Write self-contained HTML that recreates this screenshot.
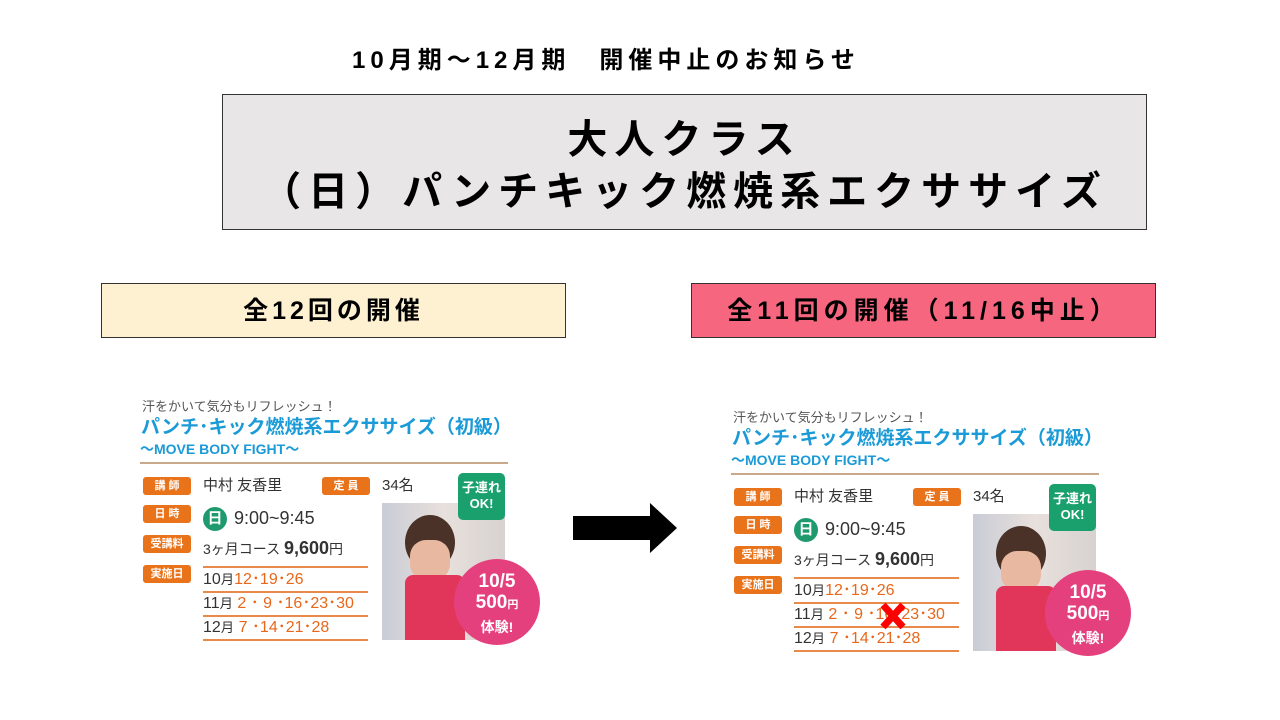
<!DOCTYPE html>
<html><head><meta charset="utf-8"><style>
*{margin:0;padding:0;box-sizing:border-box}
body{width:1280px;height:720px;background:#fff;position:relative;overflow:hidden;font-family:"Liberation Sans","Noto Sans CJK JP",sans-serif}
.a{position:absolute;white-space:nowrap}
.card{position:absolute;width:420px;height:270px}
.card .a{line-height:1}
.lab{position:absolute;width:48px;height:18px;background:#e8731a;border-radius:3px;color:#fff;font-size:11px;font-weight:bold;text-align:center;line-height:18px}
.ol{position:absolute;left:73px;width:165px;height:2px;background:#e98a4d}
.or{color:#e8671a}
</style></head><body>
<div class="a" style="left:352px;top:40px;font-size:24px;font-weight:bold;color:#000;letter-spacing:5px">10月期～12月期　開催中止のお知らせ</div>
<div class="a" style="left:222px;top:94px;width:925px;height:136px;background:#e8e6e7;border:1px solid #333"></div>
<div class="a" style="left:222px;top:114px;width:925px;text-align:center;font-size:40px;font-weight:bold;line-height:52px;letter-spacing:7px">大人クラス<br>（日）パンチキック燃焼系エクササイズ</div>
<div class="a" style="left:101px;top:283px;width:465px;height:55px;background:#fdf1d2;border:1px solid #333;font-size:25px;font-weight:bold;text-align:center;line-height:55px;letter-spacing:4px">全12回の開催</div>
<div class="a" style="left:691px;top:283px;width:465px;height:55px;background:#f6677f;border:1px solid #333;font-size:25px;font-weight:bold;text-align:center;line-height:55px;letter-spacing:5px">全11回の開催（11/16中止）</div>
<svg class="a" style="left:570px;top:500px" width="110" height="56"><polygon points="3,16 80,16 80,3 107,28 80,53 80,40 3,40" fill="#000"/></svg>

<div class="card" style="left:130px;top:390px">
<div class="a" style="left:12px;top:10px;font-size:13px;color:#555">汗をかいて気分もリフレッシュ！</div>
<div class="a" style="left:11px;top:28px;font-size:19px;font-weight:bold;color:#1a9ad6">パンチ･キック燃焼系エクササイズ（初級）</div>
<div class="a" style="left:10px;top:52px;font-size:14px;font-weight:bold;color:#1a9ad6">～MOVE BODY FIGHT～</div>
<div class="a" style="left:10px;top:72px;width:368px;height:2px;background:#c9a98a"></div>
<div class="lab" style="left:13px;top:87px">講 師</div>
<div class="lab" style="left:13px;top:115px">日 時</div>
<div class="lab" style="left:13px;top:145px">受講料</div>
<div class="lab" style="left:13px;top:175px">実施日</div>
<div class="lab" style="left:192px;top:87px">定 員</div>
<div class="a" style="left:73px;top:88px;font-size:15px;color:#333">中村 友香里</div>
<div class="a" style="left:252px;top:88px;font-size:15px;color:#333">34名</div>
<div class="a" style="left:73px;top:117px;width:24px;height:24px;border-radius:50%;background:#1e9a6e;color:#fff;font-size:15px;font-weight:bold;text-align:center;line-height:24px">日</div>
<div class="a" style="left:104px;top:119px;font-size:18px;color:#333">9:00~9:45</div>
<div class="a" style="left:73px;top:149px;font-size:14px;color:#333">3ヶ月コース <b style="font-size:18px">9,600</b>円</div>
<div class="ol" style="top:176px"></div>
<div class="ol" style="top:201px"></div>
<div class="ol" style="top:225px"></div>
<div class="ol" style="top:249px"></div>
<div class="a" style="left:73px;top:182px;font-size:16px;color:#333">10<small>月</small><span class="or">12･19･26</span></div>
<div class="a" style="left:73px;top:206px;font-size:16px;color:#333">11<small>月</small> <span class="or">2 ･ 9 ･16･23･30</span></div>
<div class="a" style="left:73px;top:230px;font-size:16px;color:#333">12<small>月</small> <span class="or">7 ･14･21･28</span></div>
<div class="a" style="left:252px;top:113px;width:123px;height:137px;background:linear-gradient(90deg,#c9ccd6,#e8e0dc 50%,#d7d2d0)"></div>
<div class="a" style="left:275px;top:125px;width:50px;height:55px;border-radius:50%;background:#4a3228"></div>
<div class="a" style="left:280px;top:150px;width:40px;height:40px;border-radius:40%;background:#e8b8a0"></div>
<div class="a" style="left:275px;top:185px;width:60px;height:65px;background:#e2355a;border-radius:8px 8px 0 0"></div>
<div class="a" style="left:328px;top:83px;width:47px;height:47px;border-radius:5px;background:#19a06d;color:#fff;font-size:13px;font-weight:bold;text-align:center;line-height:16px;padding-top:7px">子連れ<br>OK!</div>
<div class="a" style="left:324px;top:169px;width:86px;height:86px;border-radius:50%;background:#e5407e;color:#fff;font-weight:bold;text-align:center;font-size:19px;line-height:21px;padding-top:12px">10/5<br>500<small style="font-size:11px">円</small><br><span style="font-size:14px">体験!</span></div>
</div>

<div class="card" style="left:721px;top:401px">
<div class="a" style="left:12px;top:10px;font-size:13px;color:#555">汗をかいて気分もリフレッシュ！</div>
<div class="a" style="left:11px;top:28px;font-size:19px;font-weight:bold;color:#1a9ad6">パンチ･キック燃焼系エクササイズ（初級）</div>
<div class="a" style="left:10px;top:52px;font-size:14px;font-weight:bold;color:#1a9ad6">～MOVE BODY FIGHT～</div>
<div class="a" style="left:10px;top:72px;width:368px;height:2px;background:#c9a98a"></div>
<div class="lab" style="left:13px;top:87px">講 師</div>
<div class="lab" style="left:13px;top:115px">日 時</div>
<div class="lab" style="left:13px;top:145px">受講料</div>
<div class="lab" style="left:13px;top:175px">実施日</div>
<div class="lab" style="left:192px;top:87px">定 員</div>
<div class="a" style="left:73px;top:88px;font-size:15px;color:#333">中村 友香里</div>
<div class="a" style="left:252px;top:88px;font-size:15px;color:#333">34名</div>
<div class="a" style="left:73px;top:117px;width:24px;height:24px;border-radius:50%;background:#1e9a6e;color:#fff;font-size:15px;font-weight:bold;text-align:center;line-height:24px">日</div>
<div class="a" style="left:104px;top:119px;font-size:18px;color:#333">9:00~9:45</div>
<div class="a" style="left:73px;top:149px;font-size:14px;color:#333">3ヶ月コース <b style="font-size:18px">9,600</b>円</div>
<div class="ol" style="top:176px"></div>
<div class="ol" style="top:201px"></div>
<div class="ol" style="top:225px"></div>
<div class="ol" style="top:249px"></div>
<div class="a" style="left:73px;top:182px;font-size:16px;color:#333">10<small>月</small><span class="or">12･19･26</span></div>
<div class="a" style="left:73px;top:206px;font-size:16px;color:#333">11<small>月</small> <span class="or">2 ･ 9 ･16･23･30</span></div>
<div class="a" style="left:73px;top:230px;font-size:16px;color:#333">12<small>月</small> <span class="or">7 ･14･21･28</span></div>
<div class="a" style="left:252px;top:113px;width:123px;height:137px;background:linear-gradient(90deg,#c9ccd6,#e8e0dc 50%,#d7d2d0)"></div>
<div class="a" style="left:275px;top:125px;width:50px;height:55px;border-radius:50%;background:#4a3228"></div>
<div class="a" style="left:280px;top:150px;width:40px;height:40px;border-radius:40%;background:#e8b8a0"></div>
<div class="a" style="left:275px;top:185px;width:60px;height:65px;background:#e2355a;border-radius:8px 8px 0 0"></div>
<div class="a" style="left:328px;top:83px;width:47px;height:47px;border-radius:5px;background:#19a06d;color:#fff;font-size:13px;font-weight:bold;text-align:center;line-height:16px;padding-top:7px">子連れ<br>OK!</div>
<div class="a" style="left:324px;top:169px;width:86px;height:86px;border-radius:50%;background:#e5407e;color:#fff;font-weight:bold;text-align:center;font-size:19px;line-height:21px;padding-top:12px">10/5<br>500<small style="font-size:11px">円</small><br><span style="font-size:14px">体験!</span></div>
<svg class="a" style="left:158px;top:200px" width="28" height="30"><path d="M4,4 L24,26 M24,4 L4,26" stroke="#f00" stroke-width="7"/></svg>
</div>
</body></html>
